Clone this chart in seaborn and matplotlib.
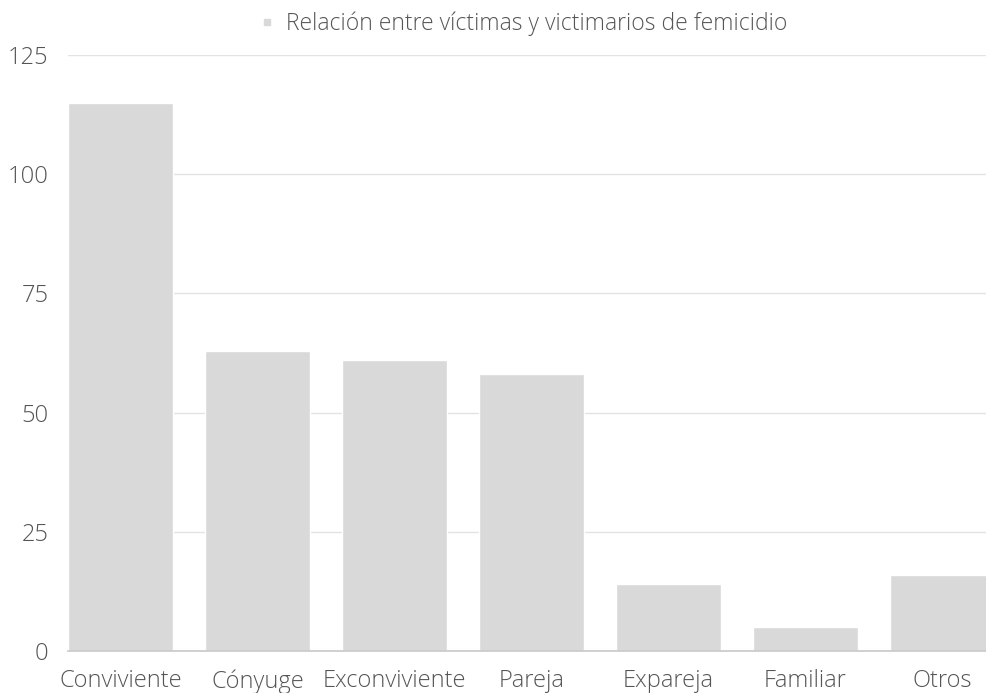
#!/usr/bin/env python3

import pandas as pd
import seaborn as sns
import matplotlib
import matplotlib.pyplot as plt
from matplotlib.lines import Line2D

matplotlib.use('Agg')

categorias = ['Conviviente', 'Cónyuge', 'Exconviviente', 'Pareja', 'Expareja', 'Familiar', 'Otros']
victimas = [115, 63, 61, 58, 14, 5, 16]
serie = 'Relación entre víctimas y victimarios de femicidio'
yticks = [0, 25, 50, 75, 100, 125]

sns.set_theme(style='white')
plt.rcParams['font.family'] = ['Open Sans', 'DejaVu Sans']

text_color = '#555555'
bar_color = '#d9d9d9'

df = pd.DataFrame({'categoria': categorias, 'valor': victimas})

fig = plt.figure(figsize=(9.86, 6.93), dpi=100)
ax = fig.add_axes([0.069, 0.0606, 0.931, 0.86])

sns.barplot(data=df, x='categoria', y='valor', color=bar_color,
            width=0.766, saturation=1, ax=ax)

ax.set_ylim(0, 125)
ax.set_xlim(-0.383, 6.32)
ax.set_yticks(yticks)
ax.set_yticklabels([str(t) for t in yticks])
ax.set_xlabel('')
ax.set_ylabel('')

ax.yaxis.grid(True, color='#e3e3e3', linewidth=1)
ax.set_axisbelow(True)
for side in ['top', 'right', 'left']:
    ax.spines[side].set_visible(False)
ax.spines['bottom'].set_color('#c8c8c8')
ax.spines['bottom'].set_linewidth(1.2)

ax.tick_params(axis='both', length=0, labelsize=17, colors=text_color)
ax.tick_params(axis='x', pad=13)
ax.tick_params(axis='y', pad=14)
for lbl in ax.get_xticklabels() + ax.get_yticklabels():
    lbl.set_fontweight('light')

handle = Line2D([], [], marker='s', linestyle='', markersize=5,
                markerfacecolor=bar_color, markeredgecolor=bar_color)
leg = fig.legend([handle], [serie], loc='center', bbox_to_anchor=(0.529, 0.966),
                 frameon=False, fontsize=16.5, handletextpad=0.3, handlelength=1)
for t in leg.get_texts():
    t.set_color(text_color)
    t.set_fontweight('light')

fig.savefig('out.png', dpi=100)
